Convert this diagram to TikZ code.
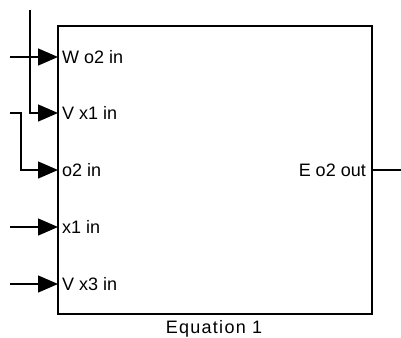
\documentclass[tikz,border=0pt]{standalone}
\usepackage{fontspec}
\setmainfont{Liberation Sans}
\usetikzlibrary{arrows.meta}
\begin{document}
\begin{tikzpicture}[x=1pt,y=-1pt,
  wire/.style={line width=1.4pt,black},
  inarrow/.style={wire,-{Triangle[length=20pt,width=17pt]}},
  portlabel/.style={font=\fontsize{18}{20}\selectfont,inner sep=0pt},
  block/.style={draw,line width=1.4pt,minimum width=314pt,minimum height=288pt,inner sep=0pt}]
\useasboundingbox (0,0) rectangle (401,337);
\node[block] (eq) at (215,170) {};
% ports on the left edge
\coordinate (p1) at (58,57);
\coordinate (p2) at (58,113);
\coordinate (p3) at (58,170);
\coordinate (p4) at (58,227);
\coordinate (p5) at (58,284);
\coordinate (pout) at (372,170);
% free ends
\coordinate (s1) at (10,57);
\coordinate (s2) at (30,10);
\coordinate (s3) at (10,113);
\coordinate (s4) at (10,227);
\coordinate (s5) at (10,284);
\coordinate (so) at (401,170);
% labels
\node[portlabel,anchor=west] (l1) at (62,57) {W o2 in};
\node[portlabel,anchor=west] (l2) at (62,113) {V x1 in};
\node[portlabel,anchor=west] (l3) at (62,170) {o2 in};
\node[portlabel,anchor=west] (l4) at (62,227) {x1 in};
\node[portlabel,anchor=west] (l5) at (62,284) {V x3 in};
\node[portlabel,anchor=east] (lo) at (366,170) {E o2 out};
\node[portlabel] (title) at (214,329) {\addfontfeature{LetterSpace=7}Equation 1};
% connectors
\draw[inarrow] (s1) -- (p1);
\draw[inarrow] (s2) |- (p2);
\draw[inarrow] (s3) -- (21,113) |- (p3);
\draw[inarrow] (s4) -- (p4);
\draw[inarrow] (s5) -- (p5);
\draw[wire] (pout) -- (so);
\end{tikzpicture}
\end{document}
